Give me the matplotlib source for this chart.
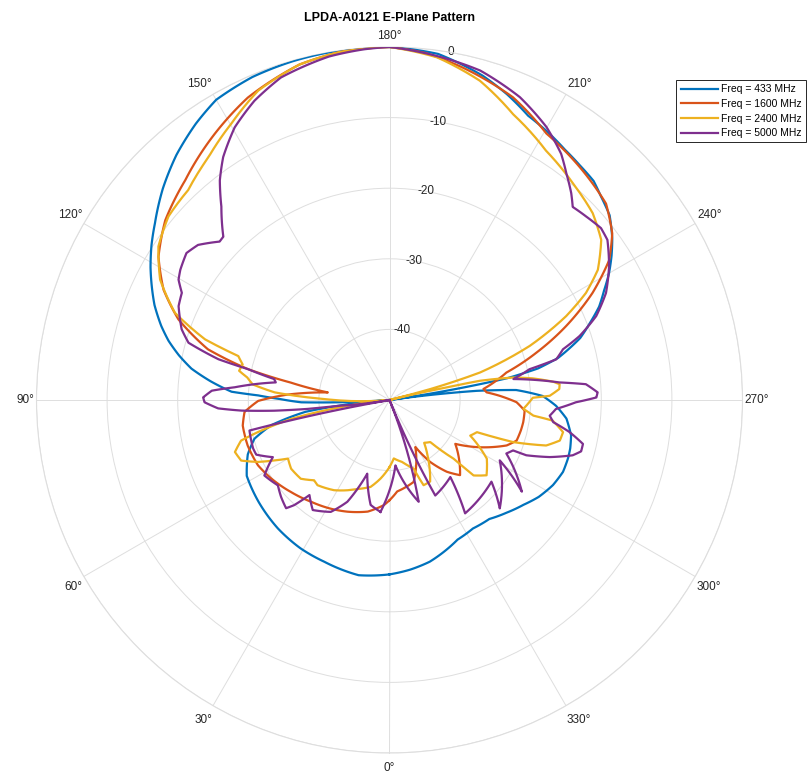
import numpy as np
import matplotlib
matplotlib.use("Agg")
import matplotlib.pyplot as plt

plt.rcParams['font.family'] = ['Liberation Sans', 'DejaVu Sans']

# ---------------- data (angle in degrees, gain in dB) ----------------
series_labels = ["Freq = 433 MHz", "Freq = 1600 MHz", "Freq = 2400 MHz", "Freq = 5000 MHz"]
series_colors = ["#0072BD", "#D95319", "#EDB120", "#7E2F8E"]

ang_433 = [0, 10, 22, 31, 41, 52, 62, 69, 74, 78, 82, 86, 88.5, 90.5, 92, 93, 96, 99, 102, 105,
           108, 112, 116, 119, 123, 127, 133, 139, 145, 150, 157, 164, 172, 180, 188, 196, 201,
           206, 211, 215, 219, 223, 226, 230, 234, 237, 240, 243, 246, 249, 252, 256, 258,
           259.5, 260.5, 262, 264, 265.5, 268.5, 272, 276, 281, 285, 288, 292.5, 297.5, 303,
           308, 314, 320, 327, 334, 340, 346, 353, 360]
db_433 = [-25.3, -24.8, -25.3, -25.5, -25.9, -26.5, -27.1, -28.5, -30.1, -32.9, -38, -50, -37.5,
          -34.5, -31.4, -27.6, -24.5, -21.6, -19.5, -17.6, -16.0, -14.1, -12.5, -11.3, -9.8, -8.4,
          -6.1, -4.0, -2.2, -0.9, -0.3, -0.1, 0, 0, -0.5, -2.2, -3.6, -5.2, -6.0, -6.7, -7.2, -7.6,
          -8.4, -9.3, -11.0, -12.5, -14.1, -15.9, -17.5, -19.6, -21.6, -25.4, -28.5, -33, -40,
          -50, -37.6, -32, -28.3, -26.4, -24.8, -23.8, -23.5, -23.4, -23.4, -23.9, -24.8, -25.9,
          -27.0, -28.0, -28.3, -28.0, -27.2, -26.4, -25.8, -25.3]

ang_1600 = [0, 3, 11, 20.6, 28.4, 37.7, 47, 56.4, 63.6, 72.2, 80.1, 85.3, 89.6, 93, 97, 100,
            102.3, 105.6, 110.9, 116, 121.8, 128.7, 137.1, 146.7, 154.9, 165, 172, 180, 186,
            192.5, 202.2, 210.5, 219.2, 227.8, 233.2, 237.5, 242.2, 247.3, 252.1, 256.8, 263.3,
            265.5, 267.8, 271, 274.5, 279.4, 283, 287.7, 291.2, 297.5, 303.7, 316.8, 321.4,
            326.7, 331.2, 343.6, 355.2, 360]
db_1600 = [-35.8, -35.1, -33.9, -33.1, -32.5, -31.8, -30.9, -29.9, -29.2, -28.9, -28.9, -29.4,
           -31.4, -35.5, -41.2, -35.8, -29.5, -23.3, -18.0, -14.4, -11.5, -9.3, -7.5, -4.9, -2.7,
           -0.8, -0.2, 0, -0.6, -1.8, -3.7, -6.2, -7.4, -8.6, -10.6, -13.1, -17.5, -22.9, -28.1,
           -33.0, -36.6, -36.2, -34.4, -32.0, -30.8, -30.8, -30.9, -31.1, -32.2, -35.5, -38.8,
           -35.4, -37.0, -39.5, -42.4, -37.9, -37.0, -35.8]

ang_2400 = [0, 6.5, 12.3, 19.8, 31.6, 40.2, 43.2, 48.4, 55.1, 60, 62.3, 64.8, 67.8, 71.4, 74.7,
            76.3, 79.1, 82, 85, 90.9, 93.8, 96.5, 99, 101, 103.6, 106.2, 108.2, 112.1, 117.7,
            123.6, 129.7, 136.2, 143.3, 150.2, 157, 165, 172, 180, 187.9, 195.8, 203.4, 212.1,
            220.3, 227.4, 232.9, 238, 241.4, 244.6, 248.9, 253.1, 255, 256, 257.2, 258, 259.7,
            261.4, 263.6, 264.7, 266.3, 268.5, 269.1, 273.8, 276.2, 277.2, 280.5, 283.4, 286.2,
            288.8, 290.2, 293.8, 301.1, 307.8, 311.9, 312.5, 315.9, 321, 326, 333.5, 338.2,
            340.6, 348, 355.8, 360]
db_2400 = [-40.5, -38.8, -37.4, -36.6, -35.0, -34.2, -34.4, -33.2, -33.0, -33.4, -31.6, -29.4,
           -27.3, -26.9, -28.2, -30.8, -35.8, -44, -50, -40.7, -33.7, -30.5, -29.6, -28.3, -28.6,
           -27.7, -22.5, -17.2, -13.3, -10.7, -9.3, -8.8, -7.1, -4.9, -2.4, -0.8, -0.2, 0, -1.0,
           -3.0, -5.9, -8.3, -9.8, -10.9, -12.4, -15.2, -18.3, -22.3, -28.7, -36.6, -44, -50,
           -44.1, -36.9, -32.2, -29.5, -26.7, -25.8, -25.9, -27.3, -29.7, -31.0, -29.5, -26.7,
           -25.0, -25.2, -26.9, -31.5, -36.8, -37.5, -33.9, -32.6, -34.0, -37.7, -41.7, -42.2,
           -40.3, -37.1, -37.0, -39.7, -41.0, -41.7, -40.5]

ang_5000 = [4.6, 10.2, 16.8, 22.5, 27.7, 34.9, 40.1, 42.2, 43.7, 48.2, 52.6, 58.9, 63.9, 67.7,
            70.4, 77.7, 80, 83.4, 83.8, 84.7, 85.9, 87.2, 89.3, 90.8, 93, 94.7, 98.8, 100.3,
            102.3, 103.4, 105.9, 108.8, 114, 117.3, 119.7, 121.9, 125.9, 129, 133, 134.5, 139,
            142.3, 145.6, 150.4, 155.7, 161.4, 170, 175.8, 180, 186.7, 195.4, 203.3, 209.9,
            214.9, 218, 221.3, 223.5, 227, 230.9, 233.7, 238.7, 243.7, 247.9, 251.4, 253.7,
            256.3, 257.6, 260.4, 264.1, 265.4, 267.9, 269.3, 270.7, 273.1, 275.6, 277.7, 280.1,
            282.8, 285, 286.8, 289.6, 292, 292.2, 294.6, 304.7, 298.7, 314.5, 308.7, 326.3,
            321.7, 334.4, 338, 344, 354.8, 364.6]
db_5000 = [-34.1, -34.9, -39.1, -34.4, -32.1, -31.0, -32.4, -29.9, -28.8, -29.4, -30.1, -29.3,
           -31.6, -29.6, -29.5, -29.7, -50, -43.1, -38.3, -33.6, -29.0, -25.7, -23.8, -23.6, -24.8,
           -28.0, -33.7, -33.4, -29.5, -25.1, -20.4, -18.9, -17.3, -16.9, -15.6, -15.1, -14.5,
           -15.1, -17.1, -17.0, -13.7, -10.7, -8.3, -5.6, -3.5, -1.8, -0.6, -0.2, 0, -0.7, -1.6,
           -3.3, -5.4, -7.5, -9.3, -11.0, -12.3, -11.9, -11.4, -11.7, -13.6, -15.8, -18.4, -21.6,
           -24.4, -25.7, -29.7, -32.2, -25.8, -22.1, -20.5, -20.7, -23.6, -26.4, -27.2, -26.6,
           -24.1, -21.9, -21.9, -22.9, -25.9, -29.1, -31.1, -31.8, -27.2, -32.2, -28.1, -31.5,
           -30.7, -36.1, -35.0, -50, -35.0, -40.7, -34.1]

r_ticks = [-40, -30, -20, -10, 0]
theta_ticks = list(range(0, 360, 30))
title_text = "LPDA-A0121 E-Plane Pattern"

# ---------------- figure ----------------
W, H = 808, 775
fig = plt.figure(figsize=(W / 100, H / 100), dpi=100)
cx, cy, R = 389.5, 400, 353
ax = fig.add_axes([(cx - R) / W, (H - cy - R) / H, 2 * R / W, 2 * R / H], projection='polar')

ax.set_theta_zero_location('S')
ax.set_theta_direction(-1)
ax.set_rlim(-50, 0)

series = [(ang_433, db_433), (ang_1600, db_1600), (ang_2400, db_2400), (ang_5000, db_5000)]
handles = []
for (a, d), lab, col in zip(series, series_labels, series_colors):
    h, = ax.plot(np.deg2rad(a), np.clip(d, -50, 0), color=col, lw=1.6, label=lab, zorder=3,
                 solid_joinstyle='round')
    # draw each segment following the polar coordinates (smooth arcs between samples)
    h.get_path()._interpolation_steps = 12
    handles.append(h)

grid_col = '#dedede'
ax.set_rticks(r_ticks)
ax.set_yticklabels([])
ax.set_thetagrids(theta_ticks, [''] * len(theta_ticks))
ax.tick_params(axis='both', length=0)
ax.grid(True, color=grid_col, lw=0.7)
ax.spines['polar'].set_color(grid_col)
ax.spines['polar'].set_linewidth(0.8)

for rv in r_ticks:
    ax.text(np.deg2rad(190), rv, f"{rv}", ha='center', va='center', fontsize=8.5,
            color='#262626', zorder=2)

# theta labels placed just outside the circle, MATLAB style
theta_texts = []
for t in theta_ticks:
    tx = ax.annotate(f"{t}\u00b0", xy=(np.deg2rad(t), 0), xycoords='data', xytext=(0, 0),
                     textcoords='offset pixels', ha='center', va='center', fontsize=8.5,
                     color='#262626', annotation_clip=False)
    theta_texts.append((t, tx))

fig.text(cx / W, 1 - 18 / H, title_text, ha='center', va='center', fontsize=9,
         fontweight='bold', color='#000000')

leg = fig.legend(handles, series_labels, loc='upper right',
                 bbox_to_anchor=(806 / W, 1 - 80 / H), fontsize=7.5, handlelength=3.6,
                 handletextpad=0.3, borderpad=0.4, labelspacing=0.45, fancybox=False,
                 framealpha=1, borderaxespad=0)
leg.get_frame().set_edgecolor('#262626')
leg.get_frame().set_linewidth(0.7)

fig.canvas.draw()
gap_x, gap_up, gap_down = 2.0, 5.0, 9.0
for t, tx in theta_texts:
    bb = tx.get_window_extent()
    w, hgt = bb.width, bb.height
    th = np.deg2rad(t)
    ux, uy = -np.sin(th), -np.cos(th)   # screen direction (y up)
    if abs(ux) < 1e-9:
        ux = 0.0
    if abs(uy) < 1e-9:
        uy = 0.0
    dx = ux * gap_x + np.clip(ux / 0.5, -1, 1) * w / 2
    gy = gap_up if uy > 0 else gap_down
    dy = uy * gy + np.clip(uy / 0.5, -1, 1) * hgt / 2
    tx.xyann = (dx, dy)

fig.savefig("out.png", dpi=100)
